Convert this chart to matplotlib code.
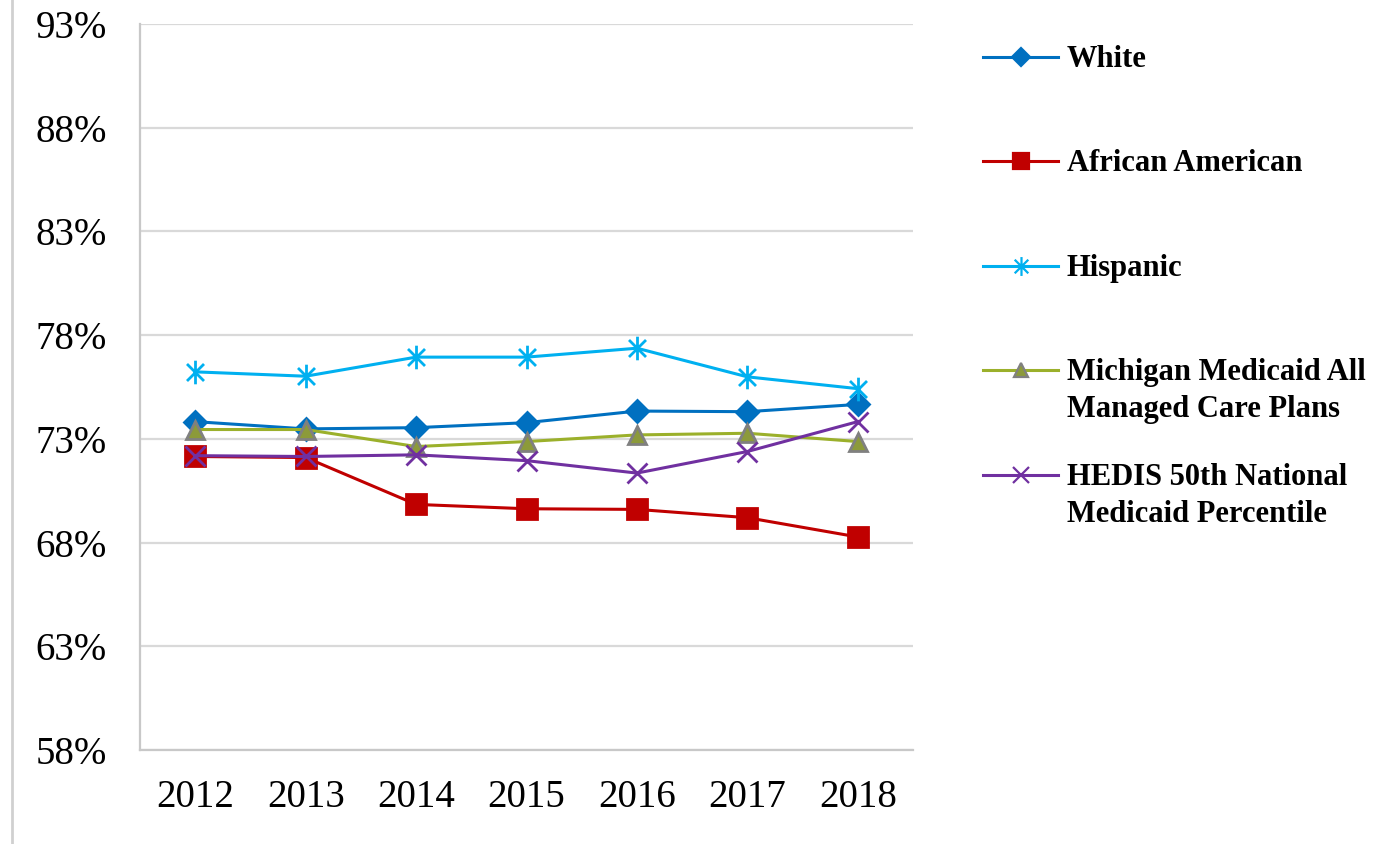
import matplotlib
matplotlib.use("Agg")
from matplotlib import pyplot as plt
from matplotlib.path import Path
from matplotlib.lines import Line2D

plt.rcParams['font.family'] = ['Liberation Serif', 'DejaVu Serif']

years = ['2012', '2013', '2014', '2015', '2016', '2017', '2018']
white = [73.83, 73.48, 73.54, 73.78, 74.34, 74.31, 74.66]
african_american = [72.15, 72.10, 69.84, 69.63, 69.60, 69.20, 68.27]
hispanic = [76.23, 76.02, 76.94, 76.94, 77.37, 75.99, 75.42]
michigan = [73.45, 73.45, 72.63, 72.87, 73.19, 73.27, 72.87]
hedis = [72.19, 72.15, 72.23, 71.95, 71.35, 72.39, 73.83]
y_ticks = [58, 63, 68, 73, 78, 83, 88, 93]

# Excel style star: X plus vertical stroke
star = Path([(0, -1), (0, 1), (-0.72, -0.72), (0.72, 0.72), (-0.72, 0.72), (0.72, -0.72)],
            [Path.MOVETO, Path.LINETO, Path.MOVETO, Path.LINETO, Path.MOVETO, Path.LINETO])

series = [
    ('White', white, '#0070C0', 'D', 11, '#0070C0', '#0070C0'),
    ('African American', african_american, '#C00000', 's', 15, '#C00000', '#C00000'),
    ('Hispanic', hispanic, '#00B0F0', star, 17, 'none', '#00B0F0'),
    ('Michigan Medicaid All\nManaged Care Plans', michigan, '#9BB02B', '^', 13, '#8C9A3A', '#808080'),
    ('HEDIS 50th National\nMedicaid Percentile', hedis, '#7030A0', 'x', 14, '#7030A0', '#7030A0'),
]

fig = plt.figure(figsize=(13.82, 8.44), dpi=100)
ax = fig.add_axes([140 / 1382, 1 - 750 / 844, (913 - 140) / 1382, (750 - 24) / 844])

x = list(range(len(years)))
for name, vals, col, mk, ms, fc, ec in series:
    ax.plot(x, vals, color=col, lw=2.2, marker=mk, markersize=ms,
            markerfacecolor=fc, markeredgecolor=ec, markeredgewidth=2, zorder=3)

ax.set_xlim(-0.5, 6.5)
ax.set_ylim(58, 93)
ax.set_yticks(y_ticks)
ax.set_yticklabels([f'{v}%' for v in y_ticks])
ax.set_xticks(x)
ax.set_xticklabels(years)
ax.tick_params(axis='y', length=0, pad=24, labelsize=28)
ax.tick_params(axis='x', length=0, pad=21, labelsize=28)
ax.grid(axis='y', color='#D9D9D9', lw=1.6)
ax.set_axisbelow(True)
for s in ['top', 'right']:
    ax.spines[s].set_visible(False)
for s in ['left', 'bottom']:
    ax.spines[s].set_color('#C8C8C8')
    ax.spines[s].set_linewidth(1.6)

# legend drawn by hand in pixel coordinates
lax = fig.add_axes([0, 0, 1, 1])
lax.set_xlim(0, 1382)
lax.set_ylim(844, 0)
lax.axis('off')
leg_y = [57, 161, 266, 370, 475]
for (name, vals, col, mk, ms, fc, ec), ly in zip(series, leg_y):
    lax.plot([983, 1058], [ly, ly], color=col, lw=2.2)
    lax.plot([1021], [ly], color=col, marker=mk, markersize=ms * 0.8,
             markerfacecolor=fc, markeredgecolor=ec, markeredgewidth=1.6)
    lax.text(1067, ly - 12, name, fontsize=22, fontweight='bold', va='top', ha='left',
             linespacing=1.35)

# page border on the left
fig.add_artist(Line2D([12 / 1382, 12 / 1382], [0, 1], color='#D0D0D0', lw=2))

plt.savefig('out.png', dpi=100)
